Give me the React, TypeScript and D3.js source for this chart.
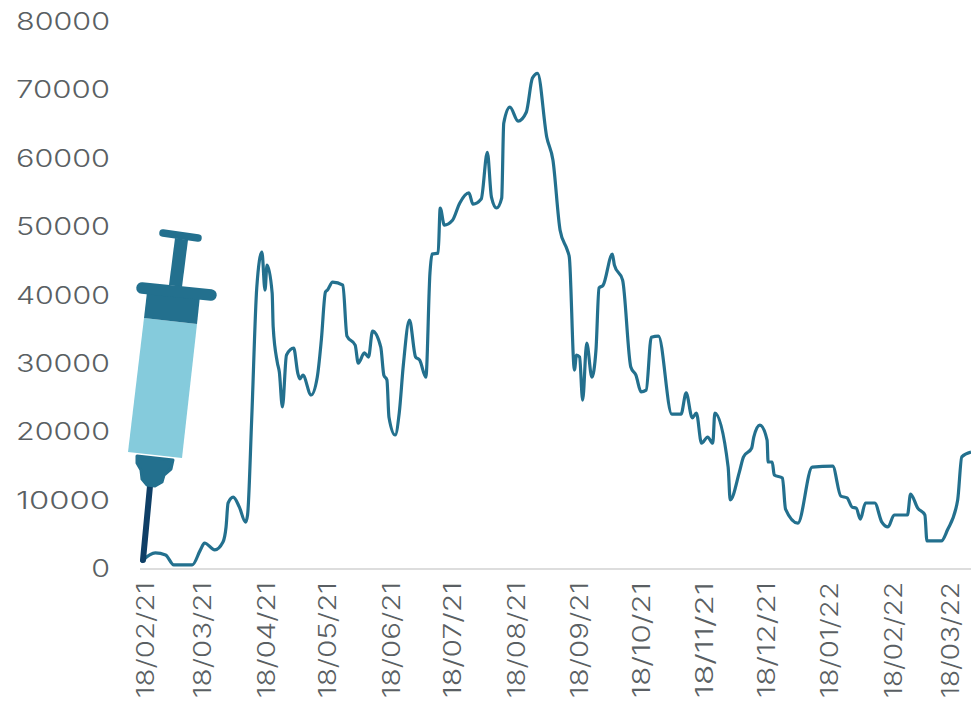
import React from "react";
import * as d3 from "d3";

const days = [0,1,7,12,16,25,29,31,36,40,41.5,42.5,45,48,51,52,54,56.5,59,60.5,61.5,64,64.5,66.5,67.5,69,71,74.5,76.5,77.5,79,83,86,88,90,91,93.5,98.5,100.5,104.5,106,109,111,113,117,118.5,120,121,124,126,128,131,134,136,139,141,142,145,146,148,152,155.5,160,162,166,169,171,173.5,176,177,180,184,188,191,193.5,198,201,204.5,208,209,211.5,212.5,214,215.5,217.5,220,222,223.5,225.5,230,231,235,239,241.5,244,246.5,249,252.5,259,263.5,266,269,271,273.5,276.5,279,280,286.5,287.5,292,294,298,299,302,305.5,306,308,309,313,314.5,320.5,327.5,337.5,341.5,344.5,347,349,351,353.5,358,361.5,364.5,367.5,374,375.5,379,382.5,383.5,390.5,393.5,398.5,400.5,405];
const cases = [1000,1300,2350,2050,600,600,2800,3800,2800,3950,6150,9650,10500,9050,6850,7900,21800,41200,46350,40800,44450,40350,35400,30250,28800,23700,31300,32300,28650,27800,28350,25450,28050,33500,40500,40800,41950,41500,34050,32750,30100,31600,31000,34800,32450,28350,27650,22200,19600,22800,29800,36400,31000,30550,28050,43300,46050,46200,52800,50300,51000,53500,55000,53350,54100,60950,54400,52800,54250,65200,67550,65500,66800,71800,72500,63150,59800,49550,46650,45600,29100,31300,31000,24700,33050,28050,32000,41100,41500,46050,44450,42250,29550,28350,25900,26150,33900,34050,22650,22650,25750,22100,22800,18400,19300,18400,22800,14900,10100,14200,16400,17700,19300,21050,18850,15650,15650,13750,13300,8750,6700,14900,15050,10650,10400,9050,8900,7300,9650,9650,6850,6150,7900,7900,10950,8900,7900,4100,4100,5700,10100,16400,17100];
const yTicks = [0,10000,20000,30000,40000,50000,60000,70000,80000];
const tickDays = [0,28,59,89,120,150,181,212,242,273,303,334,365,393];
const tickLabels = ["18/02/21","18/03/21","18/04/21","18/05/21","18/06/21","18/07/21","18/08/21","18/09/21","18/10/21","18/11/21","18/12/21","18/01/22","18/02/22","18/03/22"];

const x = d3.scaleLinear().domain([0, 405]).range([141, 971]);
const y = d3.scaleLinear().domain([0, 80000]).range([569, 22]);
const path = d3.line<number>().x((_, i) => x(days[i])).y((d) => y(d)).curve(d3.curveMonotoneX)(cases) ?? "";

const font = "Inter, 'Open Sans', sans-serif";
const textCol = "#5a5f63";
const teal = "#23708e";

export default function App() {
  return (
    <svg width={971} height={708} style={{ position: "absolute", left: 0, top: 0, background: "#fff" }}>
      <line x1={140} x2={971} y1={569} y2={569} stroke="#dddddd" strokeWidth={2} />
      {yTicks.map((t) => (
        <text key={t} x={110} y={y(t) + 8} textAnchor="end" fontFamily={font} fontWeight={300} fontSize={24} fill={textCol}
          textLength={String(t).length * 18.8} lengthAdjust="spacingAndGlyphs">{t}</text>
      ))}
      {tickDays.map((d, i) => (
        <text key={d} transform={`translate(${x(d) + 13},582) rotate(-90)`} textAnchor="end" fontFamily={font} fontWeight={300} fontSize={24} fill={textCol}
          textLength={116} lengthAdjust="spacingAndGlyphs">{tickLabels[i]}</text>
      ))}
      <path d={path} fill="none" stroke={teal} strokeWidth={3.2} strokeLinejoin="round" />
      {/* syringe */}
      <line x1={150} y1={486} x2={143} y2={560} stroke="#0f3f66" strokeWidth={6} strokeLinecap="round" />
      <path d="M137,456L173,460L171,469L164,475L162,482L155,486L147,485L142,479L141,470L137,463Z" fill={teal} stroke={teal} strokeWidth={3} strokeLinejoin="round" />
      <path d="M144,318L197,324L182,458L128,452Z" fill="#85cbdc" />
      <path d="M147,292L200,296L197,324L144,318Z" fill={teal} />
      <path d="M175,238L188,240L182,287L169,285Z" fill={teal} />
      <line x1={163} y1={233} x2={198} y2={238} stroke={teal} strokeWidth={7.5} strokeLinecap="round" />
      <line x1={142} y1={288} x2={211} y2={295} stroke={teal} strokeWidth={11.5} strokeLinecap="round" />
    </svg>
  );
}
